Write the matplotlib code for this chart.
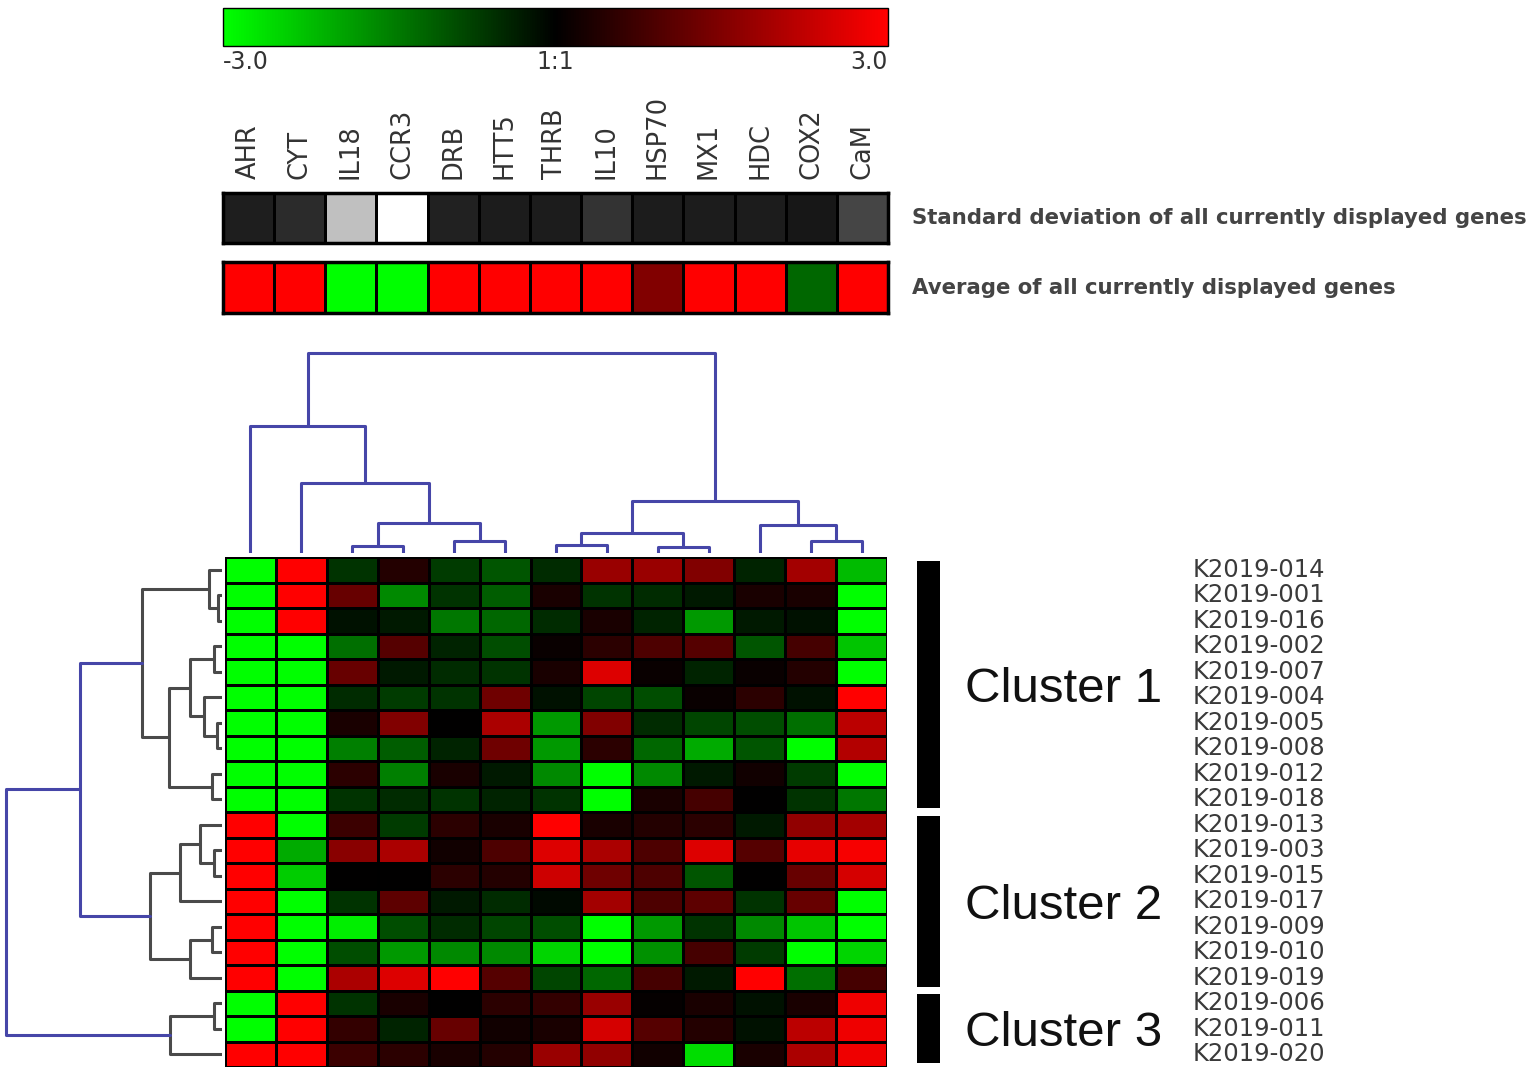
import numpy as np
import matplotlib
matplotlib.use("Agg")
import matplotlib.pyplot as plt
from matplotlib.colors import LinearSegmentedColormap, Normalize
from matplotlib.cm import ScalarMappable

W, H = 1534, 1078

genes = ["AHR", "CYT", "IL18", "CCR3", "DRB", "HTT5", "THRB",
         "IL10", "HSP70", "MX1", "HDC", "COX2", "CaM"]

samples = ["K2019-014", "K2019-001", "K2019-016", "K2019-002", "K2019-007",
           "K2019-004", "K2019-005", "K2019-008", "K2019-012", "K2019-018",
           "K2019-013", "K2019-003", "K2019-015", "K2019-017", "K2019-009",
           "K2019-010", "K2019-019", "K2019-006", "K2019-011", "K2019-020"]

# log ratio, rows = samples, cols = genes (same order as above)
expr = np.array([
    [-3.0,  3.0, -0.6,  0.4, -0.7, -1.0, -0.5,  1.8,  1.8,  1.5, -0.4,  1.9, -2.2],
    [-3.0,  3.0,  1.2, -1.6, -0.6, -1.1,  0.3, -0.6, -0.5, -0.3,  0.3,  0.3, -3.0],
    [-3.0,  3.0, -0.2, -0.3, -1.4, -1.2, -0.5,  0.3, -0.4, -1.8, -0.3, -0.2, -3.0],
    [-3.0, -3.0, -1.3,  1.0, -0.4, -0.9,  0.1,  0.5,  0.9,  1.0, -1.0,  0.8, -2.3],
    [-3.0, -3.0,  1.2, -0.3, -0.5, -0.6,  0.3,  2.6,  0.1, -0.4,  0.1,  0.4, -3.0],
    [-3.0, -3.0, -0.5, -0.7, -0.6,  1.3, -0.2, -0.8, -0.9,  0.1,  0.5, -0.2,  3.0],
    [-3.0, -3.0,  0.3,  1.5,  0.0,  2.0, -1.8,  1.5, -0.5, -0.8, -0.9, -1.3,  2.2],
    [-3.0, -3.0, -1.5, -1.1, -0.4,  1.3, -1.8,  0.5, -1.2, -2.0, -1.0, -3.0,  2.1],
    [-3.0, -3.0,  0.5, -1.5,  0.3, -0.3, -1.6, -3.0, -1.6, -0.3,  0.2, -0.7, -3.0],
    [-3.0, -3.0, -0.6, -0.5, -0.6, -0.4, -0.6, -3.0,  0.3,  0.8,  0.0, -0.6, -1.4],
    [ 3.0, -3.0,  0.7, -0.7,  0.5,  0.3,  3.0,  0.3,  0.4,  0.5, -0.3,  1.7,  1.9],
    [ 3.0, -2.0,  1.6,  2.0,  0.2,  0.9,  2.6,  2.0,  0.9,  2.6,  1.0,  2.7,  2.9],
    [ 3.0, -2.4,  0.0,  0.0,  0.5,  0.4,  2.4,  1.3,  0.9, -1.0,  0.0,  1.2,  2.5],
    [ 3.0, -3.0, -0.6,  1.1, -0.3, -0.5, -0.1,  1.9,  0.9,  1.1, -0.6,  1.2, -3.0],
    [ 3.0, -3.0, -2.8, -0.9, -0.5, -0.8, -0.9, -3.0, -1.8, -0.6, -1.6, -2.3, -3.0],
    [ 3.0, -3.0, -0.9, -1.8, -1.6, -1.6, -2.5, -3.0, -1.7,  0.8, -0.7, -3.0, -2.5],
    [ 3.0, -3.0,  2.0,  2.6,  3.0,  1.0, -0.8, -1.2,  0.8, -0.3,  3.0, -1.3,  0.8],
    [-3.0,  3.0, -0.6,  0.3,  0.0,  0.5,  0.6,  1.8,  0.05, 0.3, -0.2,  0.3,  2.8],
    [-3.0,  3.0,  0.6, -0.4,  1.2,  0.2,  0.3,  2.5,  1.0,  0.4, -0.2,  2.2,  2.8],
    [ 3.0,  3.0,  0.7,  0.5,  0.3,  0.4,  1.8,  1.7,  0.2, -2.6,  0.3,  2.0,  2.8],
])

# summary rows (gray level of SD bar, colour value of average bar)
sd_gene = [0.12, 0.17, 0.75, 1.0, 0.13, 0.11, 0.11, 0.2, 0.11, 0.11, 0.11, 0.09, 0.27]
avg_gene = [3.0, 3.0, -3.0, -3.0, 3.0, 3.0, 3.0, 3.0, 1.5, 3.0, 3.0, -1.2, 3.0]

# merges: (child a, child b, height); leaves 0..n-1, merge k -> n+k
col_links = [(2, 3, 6.7), (4, 5, 11.7), (13, 14, 30), (1, 15, 70), (0, 16, 126.7),
             (6, 7, 7.7), (8, 9, 5.7), (18, 19, 20), (11, 12, 12.3), (10, 21, 27.7),
             (20, 22, 52.3), (17, 23, 200)]
row_links = [(1, 2, 4.3), (0, 20, 13.3), (3, 4, 8.3), (6, 7, 5), (5, 23, 17.7),
             (22, 24, 31.7), (8, 9, 10), (25, 26, 53.3), (21, 27, 80),
             (11, 12, 8.3), (10, 29, 22.3), (30, 13, 41.7), (14, 15, 10),
             (32, 16, 31.7), (31, 33, 71.7), (28, 34, 141.7), (17, 18, 8.3),
             (36, 19, 51.7), (35, 37, 215.7)]

clusters = ["Cluster 1", "Cluster 2", "Cluster 3"]
cluster_start = [0, 10, 17]
cluster_end = [10, 17, 20]

BLUE = "#4646a8"
GRAY = "#4a4a4a"


def box(x0, y0, x1, y1):
    return [x0 / W, 1 - y1 / H, (x1 - x0) / W, (y1 - y0) / H]


def dendro(ax, links, n, side, cut=None):
    pos = list(np.arange(n) + 0.5)
    hgt = [0.0] * n
    for a, b, h in links:
        xs = [pos[a], pos[a], pos[b], pos[b]]
        ys = [hgt[a], h, h, hgt[b]]
        c = BLUE if (cut is None or h > cut) else GRAY
        if side == "top":
            ax.plot(xs, ys, color=c, lw=2.2, solid_capstyle="round")
        else:
            ax.plot(ys, xs, color=c, lw=2.2, solid_capstyle="round")
        pos.append((pos[a] + pos[b]) / 2)
        hgt.append(h)
    ax.axis("off")


cmap = LinearSegmentedColormap.from_list("gkr", ["#00ff00", "#000000", "#ff0000"])
plt.rcParams["font.family"] = "DejaVu Sans"

fig = plt.figure(figsize=(W / 100, H / 100), dpi=100)

# colour scale
cax = fig.add_axes(box(223, 8, 888, 46))
cb = fig.colorbar(ScalarMappable(Normalize(-3, 3), cmap), cax=cax,
                  orientation="horizontal", ticks=[-3, 0, 3])
cb.ax.set_xticklabels(["-3.0", "1:1", "3.0"], fontsize=17, color="#333333")
tl = cb.ax.get_xticklabels()
tl[0].set_ha("left")
tl[-1].set_ha("right")
cb.ax.tick_params(length=0, pad=3)
cb.outline.set_linewidth(1)

# standard deviation bar
ax_sd = fig.add_axes(box(223, 193, 888, 243))
ax_sd.pcolormesh([sd_gene], cmap="gray", vmin=0, vmax=1, edgecolors="black", linewidth=2)
ax_sd.set_xlim(0, 13)
ax_sd.set_xticks(np.arange(13) + 0.5)
ax_sd.set_xticklabels(genes, rotation=90, fontsize=18.5, color="#333333")
ax_sd.xaxis.tick_top()
ax_sd.tick_params(axis="x", length=0, pad=10)
ax_sd.set_yticks([])
for s in ax_sd.spines.values():
    s.set_linewidth(2.5)
ax_sd.text(1.036, 0.5, "Standard deviation of all currently displayed genes",
           transform=ax_sd.transAxes, va="center", ha="left", fontsize=15.3,
           weight="bold", color="#444444")

# average bar
ax_av = fig.add_axes(box(223, 262, 888, 313))
ax_av.pcolormesh([avg_gene], cmap=cmap, vmin=-3, vmax=3, edgecolors="black", linewidth=2)
ax_av.set_xlim(0, 13)
ax_av.set_xticks([])
ax_av.set_yticks([])
for s in ax_av.spines.values():
    s.set_linewidth(2.5)
ax_av.text(1.036, 0.5, "Average of all currently displayed genes",
           transform=ax_av.transAxes, va="center", ha="left", fontsize=15.3,
           weight="bold", color="#444444")

# heatmap
ax = fig.add_axes(box(225, 557, 887, 1067))
ax.pcolormesh(expr, cmap=cmap, vmin=-3, vmax=3, edgecolors="black", linewidth=2)
ax.set_xlim(0, 13)
ax.set_ylim(20, 0)
ax.set_xticks([])
ax.set_yticks([])
for s in ax.spines.values():
    s.set_visible(False)
for i, name in enumerate(samples):
    ax.text(1.462, i + 0.5, name, transform=ax.get_yaxis_transform(),
            va="center", ha="left", fontsize=17.5, color="#3a3a3a")

# gene dendrogram
ax_cd = fig.add_axes(box(225, 345, 887, 553))
ax_cd.set_xlim(0, 13)
ax_cd.set_ylim(0, 208)
dendro(ax_cd, col_links, 13, "top")

# sample dendrogram
ax_rd = fig.add_axes(box(0, 557, 222, 1067))
ax_rd.set_ylim(20, 0)
ax_rd.set_xlim(222, 0)
dendro(ax_rd, row_links, 20, "left", cut=100)

# cluster bars
ax_cl = fig.add_axes(box(905, 557, 1185, 1067))
ax_cl.set_ylim(20, 0)
ax_cl.set_xlim(0, 280)
for name, a, b in zip(clusters, cluster_start, cluster_end):
    ax_cl.bar(23.5, b - a - 0.3, bottom=a + 0.15, width=23, color="black")
    ax_cl.text(60, (a + b) / 2 + 0.2, name, va="center", ha="left",
               fontsize=35.5, family="Liberation Sans", color="#111111")
ax_cl.axis("off")

fig.savefig("out.png", dpi=100, facecolor="white")
